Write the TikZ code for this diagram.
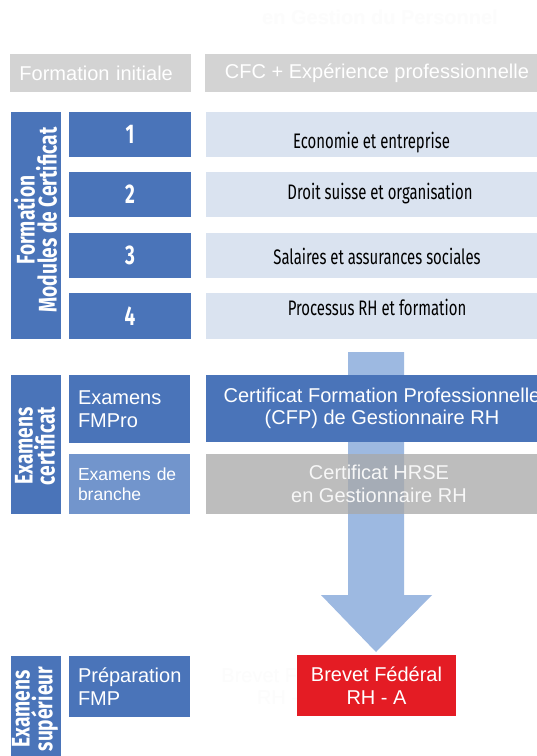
\documentclass[tikz,border=0pt]{standalone}
\usepackage{fontspec}
\setmainfont{Liberation Sans}
\newfontfamily\condfont[FakeStretch=0.71]{Fira Sans}
\newfontfamily\condbfont[FakeStretch=0.75]{Fira Sans}
\newfontfamily\numfont[FakeStretch=0.70]{Fira Sans}
\definecolor{hdr}{HTML}{D3D3D3}
\definecolor{blu}{HTML}{4A74B9}
\definecolor{lblu}{HTML}{7295CC}
\definecolor{pale}{HTML}{DAE3F0}
\definecolor{arw}{HTML}{9DB9E1}
\definecolor{gry}{HTML}{A8A8A8}
\definecolor{rd}{HTML}{E41C24}
\definecolor{ghost}{HTML}{FCFCFC}
\begin{document}
\begin{tikzpicture}[x=1pt,y=-1pt,
  bx/.style={anchor=north west, inner sep=0pt, outer sep=0pt},
  sans/.style={font=\fontsize{20}{22.5}\selectfont},
  vlab/.style={rotate=90, align=center, text=white, inner sep=0pt,
    font=\condbfont\bfseries\fontsize{25.5}{20.5}\selectfont},
  numtxt/.style={text=white, font=\numfont\bfseries\fontsize{27}{27}\selectfont},
  modtxt/.style={anchor=base, inner sep=0pt, text=black,
    font=\condfont\fontsize{21}{22}\selectfont},
  lefttxt/.style={align=left, inner xsep=9pt, inner ysep=0pt, text=white}
]
\useasboundingbox (0,0) rectangle (537,756);
\clip (0,0) rectangle (537,756);
\fill[white] (0,0) rectangle (537,756);

% faint title
\node[anchor=base, inner sep=0pt, text=ghost, font=\bfseries\fontsize{20}{22}\selectfont] (title) at (380,24.5) {en Gestion du Personnel};

% headers
\node[bx, fill=hdr, minimum width=181, minimum height=38, text width=162, inner xsep=9.5pt, align=left, text=white, sans] (h1) at (10,54) {Formation initiale};
\node[bx, fill=hdr, minimum width=344, minimum height=38, align=center, text=white, sans] (h2) at (205,54) {CFC + Expérience professionnelle};

% modules
\node[bx, fill=blu, minimum width=50, minimum height=227] (barA) at (11,112) {};
\node[vlab] (labA) at (35.5,220) {Formation\\Modules de Certificat};

\node[bx, fill=blu, minimum width=122, minimum height=45, numtxt] (n1) at (69,112) {1};
\node[bx, fill=blu, minimum width=122, minimum height=45, numtxt] (n2) at (69,172) {2};
\node[bx, fill=blu, minimum width=122, minimum height=45, numtxt] (n3) at (69,233) {3};
\node[bx, fill=blu, minimum width=122, minimum height=46, numtxt] (n4) at (69,293) {4};

\node[bx, fill=pale, minimum width=342, minimum height=45] (m1) at (206,112) {};
\node[bx, fill=pale, minimum width=342, minimum height=45] (m2) at (206,172) {};
\node[bx, fill=pale, minimum width=342, minimum height=45] (m3) at (206,233) {};
\node[bx, fill=pale, minimum width=342, minimum height=46] (m4) at (206,293) {};
\node[modtxt] (t1) at (371.5,148) {Economie et entreprise};
\node[modtxt] (t2) at (380,199) {Droit suisse et organisation};
\node[modtxt] (t3) at (377,264) {Salaires et assurances sociales};
\node[modtxt] (t4) at (377,315) {Processus RH et formation};

% big arrow
\fill[arw] (348,352) -- (404,352) -- (404,595) -- (432,595) -- (376,652)
  -- (321,595) -- (348,595) -- cycle;

% exams certificate
\node[bx, fill=blu, minimum width=50, minimum height=139] (barB) at (11,375) {};
\node[vlab] (labB) at (35,446) {Examens\\certificat};
\node[bx, fill=blu, minimum width=121, minimum height=68, text width=103, lefttxt, sans] (fmpro) at (69,375) {Examens\\FMPro};
\node[bx, fill=lblu, minimum width=121, minimum height=60, text width=103, lefttxt, font=\fontsize{17.5}{19.5}\selectfont] (branche) at (69,454) {Examens de\\branche};
\node[bx, fill=blu, minimum width=352, minimum height=67, align=center, text=white, sans] (cfp) at (206,375) {Certificat Formation Professionnelle\\(CFP) de Gestionnaire RH};
\node[bx, fill=gry, fill opacity=0.75, text opacity=1, minimum width=346, minimum height=60, align=center, text=white!94!gray, sans] (hrse) at (206,454) {Certificat HRSE\\en Gestionnaire RH};

% higher exams
\node[bx, fill=blu, minimum width=50, minimum height=110] (barC) at (11,656) {};
\node[vlab] (labC) at (35,709) {Examens\\supérieur};
\node[bx, fill=blu, minimum width=121, minimum height=61, text width=103, lefttxt, sans] (prep) at (69,656) {Préparation\\FMP};

\node[align=center, text=ghost, inner sep=0pt, sans] (ghostbf) at (287,686) {Brevet Fédéral\\RH - A};
\node[bx, fill=rd, minimum width=159, minimum height=61, align=center, text=white, sans] (bf) at (297,655) {Brevet Fédéral\\RH - A};
\end{tikzpicture}
\end{document}
